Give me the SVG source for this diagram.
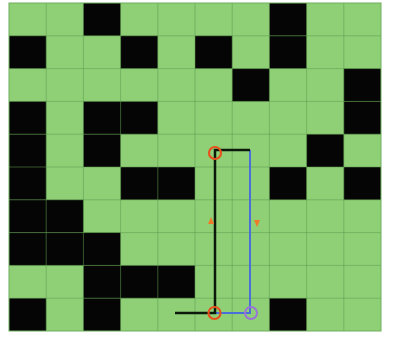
<svg xmlns="http://www.w3.org/2000/svg" width="393" height="339" viewBox="0 0 393 339">
  <style>
    .cell{fill:#8fd077}
    .wall{fill:#050505}
    .grid{stroke:#5f9a4e;stroke-width:1;stroke-opacity:0.55;fill:none}
    .blk{stroke:#0c1a0c;stroke-width:2.5;fill:none}
    .blu{stroke:#4a6fd8;stroke-width:2;fill:none}
    .mark{stroke:#e8501c;stroke-width:2.2;fill:none}
    .markp{stroke:#9b72d6;stroke-width:2;fill:none}
    .arr{fill:#f07a28}
  </style>
  <rect x="0" y="0" width="393" height="339" fill="#ffffff"/>
  <g id="board">
    <rect class="cell" x="9" y="3" width="372" height="328"/>
    <g id="walls">
      <rect class="wall" x="83.4" y="3" width="37.2" height="32.8"/>
      <rect class="wall" x="269.4" y="3" width="37.2" height="32.8"/>
      <rect class="wall" x="9" y="35.8" width="37.2" height="32.8"/>
      <rect class="wall" x="120.6" y="35.8" width="37.2" height="32.8"/>
      <rect class="wall" x="195" y="35.8" width="37.2" height="32.8"/>
      <rect class="wall" x="269.4" y="35.8" width="37.2" height="32.8"/>
      <rect class="wall" x="232.2" y="68.6" width="37.2" height="32.8"/>
      <rect class="wall" x="343.8" y="68.6" width="37.2" height="32.8"/>
      <rect class="wall" x="9" y="101.4" width="37.2" height="32.8"/>
      <rect class="wall" x="83.4" y="101.4" width="74.4" height="32.8"/>
      <rect class="wall" x="343.8" y="101.4" width="37.2" height="32.8"/>
      <rect class="wall" x="9" y="134.2" width="37.2" height="32.8"/>
      <rect class="wall" x="83.4" y="134.2" width="37.2" height="32.8"/>
      <rect class="wall" x="306.6" y="134.2" width="37.2" height="32.8"/>
      <rect class="wall" x="9" y="167" width="37.2" height="32.8"/>
      <rect class="wall" x="120.6" y="167" width="74.4" height="32.8"/>
      <rect class="wall" x="269.4" y="167" width="37.2" height="32.8"/>
      <rect class="wall" x="343.8" y="167" width="37.2" height="32.8"/>
      <rect class="wall" x="9" y="199.8" width="74.4" height="32.8"/>
      <rect class="wall" x="9" y="232.6" width="111.6" height="32.8"/>
      <rect class="wall" x="83.4" y="265.4" width="111.6" height="32.8"/>
      <rect class="wall" x="9" y="298.2" width="37.2" height="32.8"/>
      <rect class="wall" x="83.4" y="298.2" width="37.2" height="32.8"/>
      <rect class="wall" x="269.4" y="298.2" width="37.2" height="32.8"/>
    </g>
    <path class="grid" d="M46.2 3V331M83.4 3V331M120.6 3V331M157.8 3V331M195 3V331M232.2 3V331M269.4 3V331M306.6 3V331M343.8 3V331M9 35.8H381M9 68.6H381M9 101.4H381M9 134.2H381M9 167H381M9 199.8H381M9 232.6H381M9 265.4H381M9 298.2H381"/>
    <rect x="9" y="3" width="372" height="328" fill="none" stroke="#6fae5c" stroke-width="1"/>
  </g>
  <g id="connectors">
    <path class="blu" d="M250 150V313H215"/>
    <path class="blk" d="M175 313H215V150H250"/>
    <path class="arr" d="M211 217L208 224H214Z"/>
    <path class="arr" d="M257 227L254 220H260Z"/>
  </g>
  <g id="start"><circle class="mark" cx="215" cy="153" r="6"/></g>
  <g id="end"><circle class="mark" cx="214.5" cy="313" r="6"/></g>
  <g id="goal"><circle class="markp" cx="251" cy="313" r="6"/></g>
</svg>
